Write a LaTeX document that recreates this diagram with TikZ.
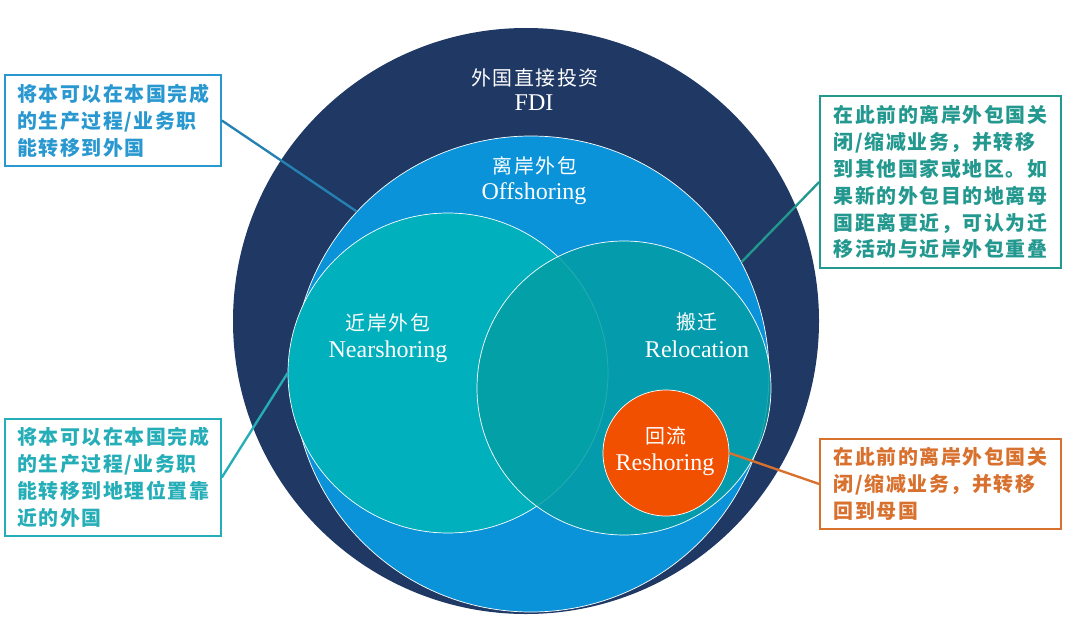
\documentclass[tikz,border=0pt]{standalone}
\usepackage{fontspec}
\usepackage{xcolor}
\setmainfont{Liberation Serif}
\newfontfamily\cjk[LetterSpace=8]{Noto Sans CJK SC}
\definecolor{fdinavy}{HTML}{1F3864}
\definecolor{offblue}{HTML}{0A93D9}
\definecolor{nearteal}{HTML}{00B0BD}
\definecolor{relteal}{HTML}{049EA5}
\definecolor{reorange}{HTML}{F05000}
\definecolor{boxblue}{HTML}{2A98D0}
\definecolor{boxteal}{HTML}{26AEB8}
\definecolor{boxgreen}{HTML}{23988F}
\definecolor{boxorange}{HTML}{D8702E}

\begin{document}
\begin{tikzpicture}[x=0.3mm,y=-0.3mm,
    ring/.style={circle,draw=white,line width=0.6pt,inner sep=0pt},
    en/.style={text=white,anchor=base,font=\fontsize{20.5}{24}\selectfont},
    zh/.style={text=white,font=\cjk\fontsize{17}{20}\selectfont},
    note/.style={draw,line width=1.4pt,align=left,inner sep=0pt,font=\cjk\bfseries\fontsize{17}{23}\selectfont},
    link/.style={line width=2pt}]
    \useasboundingbox (0,0) rectangle (1080,617);
    % the nested circles
    \node[circle,fill=fdinavy,inner sep=0pt,minimum size=175.8mm] (fdi) at (526,321) {};
    \node[ring,fill=offblue,minimum size=142.8mm] (offshore) at (531,374) {};
    \node[ring,fill=nearteal,minimum size=96mm] (near) at (448,373) {};
    \node[ring,fill=relteal,fill opacity=0.85,minimum size=88.2mm] (reloc) at (624,388) {};
    \node[ring,fill=reorange,minimum size=37.8mm] (reshore) at (666,453) {};
    % labels
    \node[zh] (fdizh) at (535,78) {外国直接投资};
    \node[en] (fdien) at (534,110) {FDI};
    \node[zh] (offzh) at (535,166) {离岸外包};
    \node[en] (offen) at (534,199) {Offshoring};
    \node[zh] (nearzh) at (388,323) {近岸外包};
    \node[en] (nearen) at (388,357) {Nearshoring};
    \node[zh] (relzh) at (697,322) {搬迁};
    \node[en] (relen) at (697,357) {Relocation};
    \node[zh] (rezh) at (666,436) {回流};
    \node[en] (reen) at (665,470) {Reshoring};
    % notes
    \node[note,draw=boxblue,text=boxblue,minimum width=64.8mm,minimum height=27.3mm] (tlnote) at (113,120.5)
        {将本可以在本国完成\\的生产过程/业务职\\能转移到外国};
    \node[note,draw=boxteal,text=boxteal,minimum width=64.8mm,minimum height=35.1mm] (blnote) at (113,477.5)
        {将本可以在本国完成\\的生产过程/业务职\\能转移到地理位置靠\\近的外国};
    \node[note,draw=boxgreen,text=boxgreen,minimum width=72.3mm,minimum height=51.6mm] (trnote) at (940.5,182)
        {在此前的离岸外包国关\\闭/缩减业务，并转移\\到其他国家或地区。如\\果新的外包目的地离母\\国距离更近，可认为迁\\移活动与近岸外包重叠};
    \node[note,draw=boxorange,text=boxorange,minimum width=72.3mm,minimum height=27mm] (brnote) at (940.5,484)
        {在此前的离岸外包国关\\闭/缩减业务，并转移\\回到母国};
    % links
    \draw[link,boxblue!85!black] (tlnote.east) -- (offshore.137);
    \draw[link,boxteal] (blnote.east) -- (near.west);
    \draw[link,boxgreen] (trnote.west) -- (offshore.28);
    \draw[link,boxorange] (brnote.west) -- (reshore.east);
\end{tikzpicture}
\end{document}
